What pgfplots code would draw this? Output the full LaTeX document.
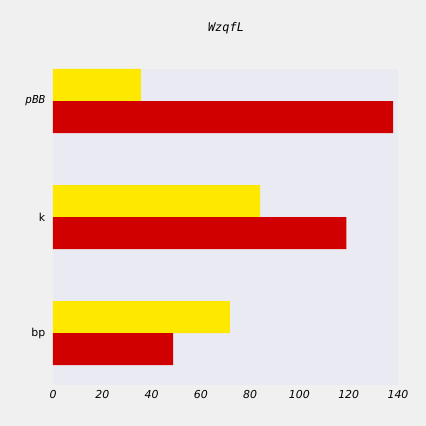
\documentclass[border=0pt]{standalone}
\usepackage{pgfplots}
\pgfplotsset{compat=1.18}
\usepackage{fontspec}
\setmainfont{DejaVu Sans}
\newfontfamily\mono{DejaVu Sans Mono}
\definecolor{bgc}{HTML}{F0F0F0}
\definecolor{axc}{HTML}{EAEAF2}
\definecolor{yel}{HTML}{FFE800}
\definecolor{redc}{HTML}{D00000}
\begin{document}
\begin{tikzpicture}[x=1bp,y=1bp]
\fill[bgc] (-53,-41) rectangle (373,385);
\node[font=\mono\itshape\fontsize{12}{14}\selectfont] at (173,357) {WzqfL};
\begin{axis}[at={(0,0)},anchor=south west,scale only axis,width=345bp,height=316bp,
 axis background/.style={fill=axc}, axis line style={draw=none},
 xbar, bar width=0.276, xmin=0,xmax=140, ymin=-0.448, ymax=2.276,
 xtick={0,20,...,140}, ytick={0,1,2},
 yticklabels={bp,k,{\mono\itshape pBB}},
 tick style={draw=none},
 /pgf/number format/assume math mode=true,
 xticklabel style={font=\itshape\fontsize{11}{13}\selectfont},
 yticklabel style={font=\fontsize{11}{13}\selectfont},
 xticklabel shift=2pt]
\addplot[fill=yel,draw=none,bar shift=0.138] coordinates {(71.8,0) (84,1) (35.7,2)};
\addplot[fill=redc,draw=none,bar shift=-0.138] coordinates {(48.7,0) (119,1) (138,2)};
\end{axis}
\end{tikzpicture}
\end{document}
